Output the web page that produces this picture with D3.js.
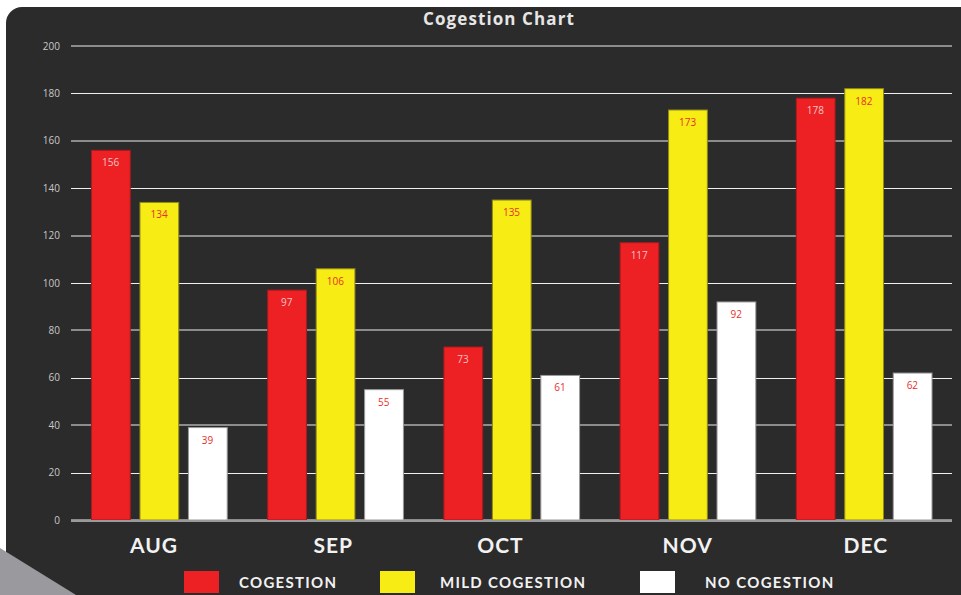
<!DOCTYPE html>
<html>
<head>
<meta charset="utf-8">
<script src="https://cdn.jsdelivr.net/npm/d3@7"></script>
<style>
  body { margin: 0; background: #ffffff; }
  svg { display: block; }
</style>
</head>
<body>
<div id="chart"></div>
<script>
"use strict";

/* Data */
let months = ["AUG", "SEP", "OCT", "NOV", "DEC"];
let seriesNames = ["COGESTION", "MILD COGESTION", "NO COGESTION"];
let cogestion = [156, 97, 73, 117, 178];
let mildCogestion = [134, 106, 135, 173, 182];
let noCogestion = [39, 55, 61, 92, 62];
let yTicks = [0, 20, 40, 60, 80, 100, 120, 140, 160, 180, 200];

/* Drawing config */
let svgWidth = 961;
let svgHeight = 595;
let plotLeft = 71, plotRight = 952, plotTop = 46, plotBottom = 520;

let barFill = ["#ed2024", "#f7ec13", "#ffffff"];
let barStroke = ["#a81a1d", "#8f8a1c", "#9a9a9a"];
let labelFill = ["#f4c4c4", "#e8302a", "#e8302a"];

// month labels in the original are not exactly centred on their groups
let labelNudge = [-5, -2, -11, 0, 2];

let svg = d3.select("#chart")
  .append("svg")
  .attr("width", svgWidth)
  .attr("height", svgHeight);

/* Dark panel */
svg.append("rect")
  .attr("x", 6)
  .attr("y", 7)
  .attr("width", svgWidth + 20)
  .attr("height", svgHeight + 20)
  .attr("rx", 16)
  .attr("fill", "#2b2b2b");

/* gray corner shape bottom-left */
svg.append("polygon")
  .attr("points", "0,548 0,595 76,595")
  .attr("fill", "#9a9a9e");

/* Title */
svg.append("text")
  .attr("x", 499)
  .attr("y", 25)
  .attr("text-anchor", "middle")
  .attr("font-family", "Open Sans")
  .attr("font-weight", "bold")
  .attr("font-size", "17px")
  .attr("letter-spacing", "1.1px")
  .attr("fill", "#e6e6e6")
  .text("Cogestion Chart");

/* Scales */
let yScale = d3.scaleLinear()
  .domain([0, 200])
  .range([plotBottom, plotTop]);

let x0 = d3.scaleBand()
  .domain(months)
  .range([plotLeft, plotRight])
  .padding(0);

let x1 = d3.scaleBand()
  .domain(seriesNames)
  .range([20, x0.bandwidth() - 20])
  .paddingInner(0.19)
  .paddingOuter(0);

/* Grid lines, alternating gray and white like the original */
yTicks.forEach(function (t) {
  let even = (t % 40 === 0);
  svg.append("line")
    .attr("x1", plotLeft)
    .attr("x2", plotRight)
    .attr("y1", Math.round(yScale(t)) + (even ? 0 : 0.5))
    .attr("y2", Math.round(yScale(t)) + (even ? 0 : 0.5))
    .attr("stroke", even ? "#8c8c8c" : "#f0f0f0")
    .attr("stroke-width", even ? 2 : 1);

  svg.append("text")
    .attr("x", 60)
    .attr("y", yScale(t))
    .attr("dy", "0.35em")
    .attr("text-anchor", "end")
    .attr("font-family", "Open Sans")
    .attr("font-size", "10px")
    .attr("fill", "#c8c8c8")
    .text(String(t));
});

/* Bars */
let allSeries = [cogestion, mildCogestion, noCogestion];

let groups = svg.selectAll("g.month")
  .data(months)
  .enter()
  .append("g")
  .attr("class", "month")
  .attr("transform", function (m) { return "translate(" + x0(m) + ",0)"; });

groups.each(function (m, mi) {
  let g = d3.select(this);
  seriesNames.forEach(function (s, si) {
    let v = allSeries[si][mi];
    g.append("rect")
      .attr("x", x1(s) + 0.5)
      .attr("y", yScale(v))
      .attr("width", x1.bandwidth() - 0.5)
      .attr("height", plotBottom - yScale(v))
      .attr("fill", barFill[si])
      .attr("stroke", barStroke[si])
      .attr("stroke-width", 1);

    g.append("text")
      .attr("x", x1(s) + x1.bandwidth() / 2)
      .attr("y", yScale(v) + 16)
      .attr("text-anchor", "middle")
      .attr("font-family", "Open Sans")
      .attr("font-size", "10px")
      .attr("fill", labelFill[si])
      .text(String(v));
  });
});

/* redraw zero line over bars */
svg.append("line")
  .attr("x1", plotLeft)
  .attr("x2", plotRight)
  .attr("y1", plotBottom + 1)
  .attr("y2", plotBottom + 1)
  .attr("stroke", "#9a9a9a")
  .attr("stroke-width", 2);

/* Month labels */
svg.selectAll("text.month-label")
  .data(months)
  .enter()
  .append("text")
  .attr("class", "month-label")
  .attr("x", function (m, i) { return x0(m) + x0.bandwidth() / 2 + labelNudge[i]; })
  .attr("y", 553)
  .attr("text-anchor", "middle")
  .attr("font-family", "Lato")
  .attr("font-weight", "bold")
  .attr("font-size", "21px")
  .attr("letter-spacing", "1px")
  .attr("fill", "#f2f2f2")
  .text(function (m) { return m; });

/* Legend */
let legendX = [184, 380, 640];
let legendGap = [55, 60, 65];
seriesNames.forEach(function (s, i) {
  svg.append("rect")
    .attr("x", legendX[i])
    .attr("y", 571)
    .attr("width", 35)
    .attr("height", 22)
    .attr("fill", barFill[i]);

  svg.append("text")
    .attr("x", legendX[i] + legendGap[i])
    .attr("y", 588)
    .attr("font-family", "Lato")
    .attr("font-weight", "bold")
    .attr("font-size", "15px")
    .attr("letter-spacing", "1.3px")
    .attr("fill", "#f2f2f2")
    .text(s);
});
</script>
</body>
</html>
